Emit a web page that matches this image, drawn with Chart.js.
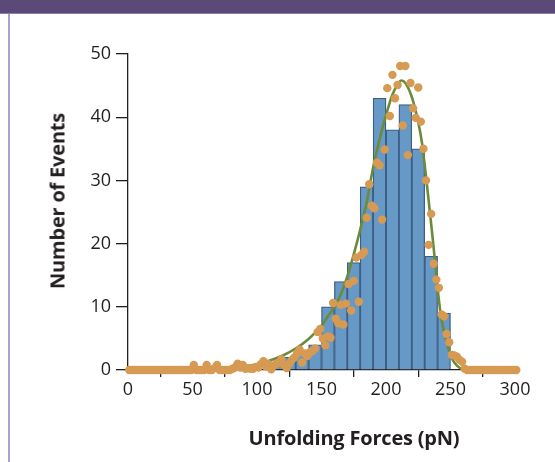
<!DOCTYPE html>
<html>
<head>
<meta charset="utf-8">
<script src="https://cdn.jsdelivr.net/npm/chart.js@4/dist/chart.umd.min.js"></script>
<style>
  html, body { margin:0; padding:0; background:#ffffff; }
  #wrap { position:relative; width:555px; height:462px; overflow:hidden; background:#fff; }
  #band { position:absolute; left:0; top:0; width:555px; height:13px; background:#5b4a78; border-bottom:1px solid #8a7fb0; }
  #vline { position:absolute; left:8px; top:14px; width:1.5px; height:448px; background:#aaa2c8; }
  #c { position:absolute; left:0; top:0; }
  .ttl { position:absolute; font-family:"Open Sans", sans-serif; font-weight:700; color:#231f20; white-space:nowrap; letter-spacing:-0.2px; }
  #xt { left:354px; top:437px; font-size:20px; transform:translate(-50%,-50%); }
  #yt { left:57px; top:201px; font-size:20px; transform:translate(-50%,-50%) rotate(-90deg); }
</style>
</head>
<body>
<div id="wrap">
  <div id="band"></div>
  <div id="vline"></div>
  <canvas id="c" width="555" height="462"></canvas>
  <div class="ttl" id="xt">Unfolding Forces (pN)</div>
  <div class="ttl" id="yt">Number of Events</div>
</div>
<script>
// ---- data ----
const binCenters = [105,115,125,135,145,155,165,175,185,195,205,215,225,235,245];
const binCounts  = [0,1,2,3,4,10,14,17,29,43,38,42,35,18,9];

const forceGrid = [1,3,5,7,9,11,13,15,17,19,21,23,25,27,29,31,33,35,37,39,41,43,45,47,49,
  51,53,55,57,59,61,63,65,67,69,71,73,75,77,79,81,83,85,87,89,91,93,95,97,99,
  101,103,105,107,109,111,113,115,117,119,121,123,125,127,129,131,133,135,137,139,
  141,143,145,147,149,151,153,155,157,159,161,163,165,167,169,171,173,175,177,179,
  181,183,185,187,189,191,193,195,197,199,201,203,205,207,209,211,213,215,217,219,
  221,223,225,227,229,231,233,235,237,239,241,243,245,247,249,251,253,255,257,259,
  261,263,265,267,269,271,273,275,277,279,281,283,285,287,289,291,293,295,297,299,301];
const eventValues = [0,0,0,0,0,0,0,0,0,0,0,0,0,0,0,0,0,0,0,0,0,0,0,0,0,
  0.8,0,0,0,0,0.8,0,0,0.3,0.8,0,0,0,0,0,0.2,0.4,1.0,0.4,0.8,0.2,0.3,0.2,0.2,0.5,
  0.4,0.9,1.4,0.6,0.9,0.1,0.7,1.0,1.2,1.7,0.8,0.3,1.0,1.6,2.0,2.6,3.2,1.2,2.6,2.2,
  2.8,3.0,3.4,6.0,6.5,5.0,3.9,5.3,5.1,10.6,8.1,7.4,10.3,7.2,10.5,13.6,9.4,14.1,17.8,10.8,
  18.2,18.7,24.1,29.4,26.0,25.6,32.8,32.4,23.8,34.9,44.6,40.2,46.7,43.0,45.1,48.1,38.7,48.1,34.0,45.4,
  41.4,39.9,44.7,39.3,35.0,30.0,19.8,24.7,16.8,14.3,13.0,8.8,8.5,5.7,4.4,2.4,2.3,2.1,1.6,1.3,
  0.2,0,0,0,0,0,0,0,0,0,0,0,0,0,0,0,0,0,0,0,0];

const fitX = [0,40,60,70,80,90,100,110,120,130,140,150,155,160,165,170,175,180,185,190,195,200,205,210,212,215,220,225,228,230,232,234,236,238,240,242,244,246,248,250,252,255,258,262,270,300];
const fitY = [0,0.02,0.06,0.12,0.25,0.5,0.9,1.5,2.3,3.4,4.9,7.0,8.5,10.0,12.0,14.8,18.3,22.2,26.5,32.0,36.5,40.3,43.6,45.5,45.8,45.4,43.2,39.2,35.8,32.4,28.8,25.0,21.2,17.2,13.0,9.4,7.0,5.2,3.7,2.4,1.5,0.7,0.25,0.05,0,0];

const xTickValues = [0,50,100,150,200,250,300];
const yTickValues = [0,10,20,30,40,50];

// ---- chart ----
const zip = (xs, ys) => xs.map((x, i) => ({x: x, y: ys[i]}));
const fontTick = {family: '"Open Sans", sans-serif', size: 18};

new Chart(document.getElementById('c'), {
  data: {
    datasets: [
      {
        type: 'bar',
        data: zip(binCenters, binCounts),
        backgroundColor: '#6799c6',
        borderColor: '#3c5f86',
        borderWidth: 1.3,
        barPercentage: 1,
        categoryPercentage: 1,
        grouped: false,
        order: 3
      },
      {
        type: 'line',
        data: zip(fitX, fitY),
        borderColor: '#6b8b3b',
        borderWidth: 2.6,
        pointRadius: 0,
        fill: false,
        cubicInterpolationMode: 'monotone',
        order: 2
      },
      {
        type: 'scatter',
        data: zip(forceGrid, eventValues),
        backgroundColor: '#d69a52',
        borderColor: '#d69a52',
        borderWidth: 0,
        pointRadius: 4.2,
        order: 1
      }
    ]
  },
  options: {
    responsive: false,
    animation: false,
    devicePixelRatio: 1,
    clip: false,
    layout: { padding: { left: 0, right: 40, top: 54, bottom: 0 } },
    plugins: { legend: { display: false }, tooltip: { enabled: false } },
    scales: {
      x: {
        type: 'linear',
        min: 0, max: 300,
        offset: false,
        afterBuildTicks: s => { s.ticks = xTickValues.map(v => ({value: v})); },
        afterFit: s => { s.height = 92; },
        border: { display: true, color: '#231f20', width: 1.3 },
        grid: { drawOnChartArea: false, drawTicks: true, tickLength: 7, color: '#231f20', lineWidth: 1.3 },
        ticks: { color: '#231f20', font: fontTick, padding: 2, maxRotation: 0 }
      },
      y: {
        type: 'linear',
        min: 0, max: 50,
        afterBuildTicks: s => { s.ticks = yTickValues.map(v => ({value: v})); },
        afterFit: s => { s.width = 128; },
        border: { display: true, color: '#231f20', width: 1.3 },
        grid: { drawOnChartArea: false, drawTicks: true, tickLength: 12, color: '#231f20', lineWidth: 1.3 },
        ticks: { color: '#231f20', font: fontTick, padding: 5 }
      }
    }
  }
});
</script>
</body>
</html>
